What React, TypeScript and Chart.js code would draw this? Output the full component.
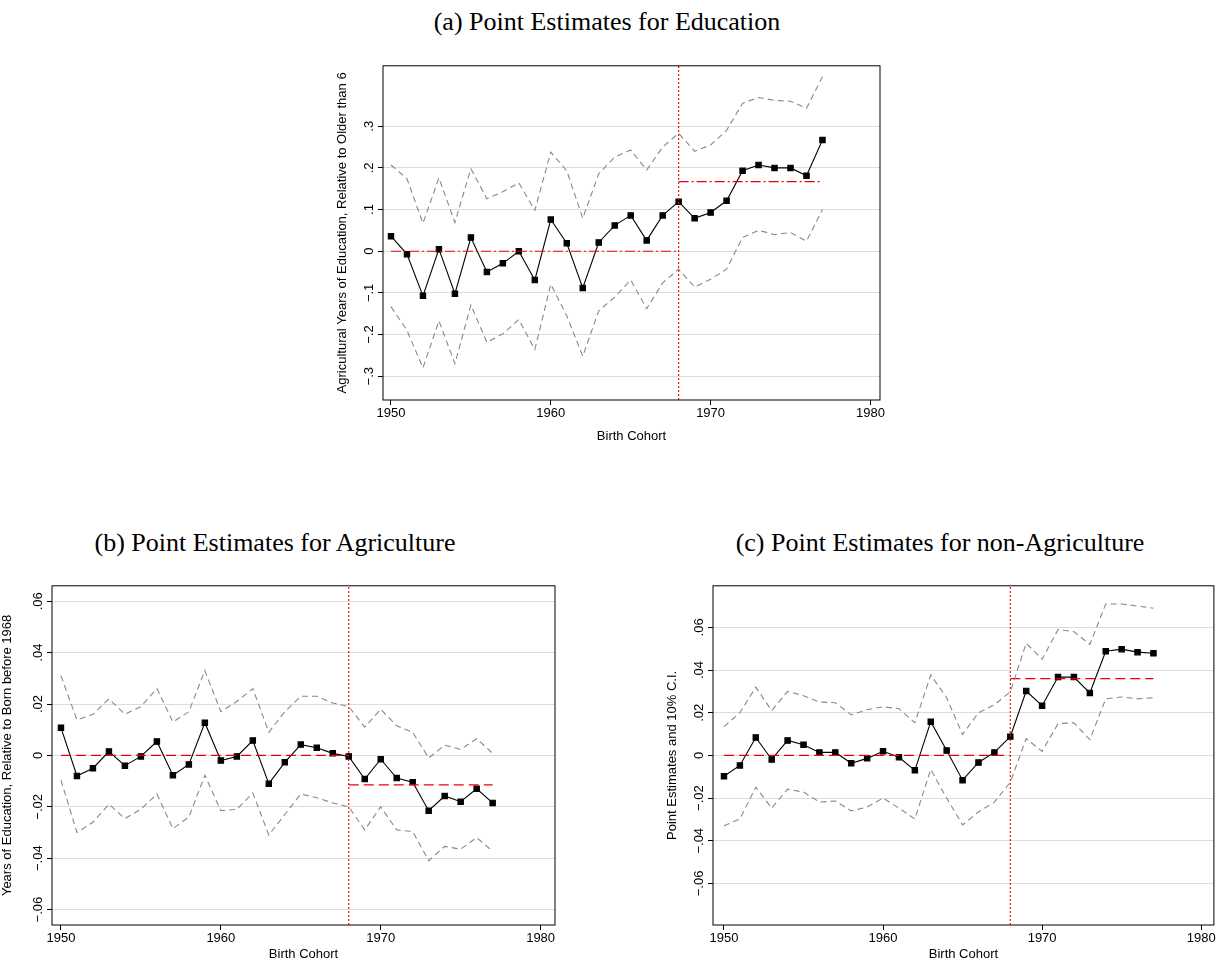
import React, { useEffect, useRef } from "react";
import { Chart, registerables } from "chart.js";
Chart.register(...registerables);

const years = [1950,1951,1952,1953,1954,1955,1956,1957,1958,1959,1960,1961,1962,1963,1964,1965,1966,1967,1968,1969,1970,1971,1972,1973,1974,1975,1976,1977];

const eduPoint = [0.036,-0.007,-0.107,0.005,-0.102,0.033,-0.05,-0.029,0,-0.069,0.076,0.019,-0.088,0.021,0.062,0.086,0.026,0.086,0.119,0.079,0.093,0.121,0.193,0.207,0.2,0.2,0.181,0.267];
const eduUpper = [0.207,0.174,0.067,0.176,0.069,0.198,0.126,0.143,0.164,0.098,0.238,0.193,0.079,0.186,0.226,0.243,0.195,0.25,0.283,0.24,0.255,0.29,0.355,0.369,0.362,0.36,0.343,0.419];
const eduLower = [-0.133,-0.19,-0.28,-0.167,-0.27,-0.129,-0.219,-0.198,-0.164,-0.236,-0.079,-0.155,-0.252,-0.143,-0.11,-0.069,-0.138,-0.076,-0.043,-0.086,-0.067,-0.043,0.033,0.05,0.04,0.045,0.024,0.1];
const eduMeans = [0, 0.167];

const agrPoint = [0.0108,-0.008,-0.005,0.0015,-0.004,-0.0004,0.0054,-0.0077,-0.0035,0.0127,-0.002,-0.0004,0.0058,-0.011,-0.0027,0.0042,0.003,0.0008,-0.0004,-0.0092,-0.0015,-0.0088,-0.0104,-0.0215,-0.0158,-0.018,-0.013,-0.0185];
const agrUpper = [0.031,0.0138,0.016,0.022,0.016,0.019,0.026,0.013,0.017,0.033,0.017,0.021,0.026,0.009,0.017,0.023,0.023,0.0204,0.019,0.011,0.018,0.0115,0.009,-0.001,0.004,0.0023,0.0065,0.0008];
const agrLower = [-0.0096,-0.03,-0.026,-0.019,-0.0246,-0.021,-0.015,-0.0285,-0.024,-0.0077,-0.0215,-0.021,-0.0146,-0.031,-0.023,-0.015,-0.0165,-0.0185,-0.02,-0.029,-0.02,-0.029,-0.0296,-0.041,-0.0354,-0.0365,-0.032,-0.0373];
const agrMeans = [0, -0.0115];

const nonPoint = [-0.0098,-0.0047,0.0084,-0.0019,0.007,0.005,0.0014,0.0014,-0.0037,-0.0014,0.0019,-0.0009,-0.007,0.0158,0.0023,-0.0116,-0.0033,0.0014,0.0088,0.0302,0.0233,0.0367,0.0367,0.0293,0.0488,0.0498,0.0484,0.0479];
const nonUpper = [0.0135,0.02,0.032,0.021,0.03,0.028,0.025,0.0247,0.019,0.0214,0.0228,0.0219,0.0153,0.0377,0.027,0.0098,0.02,0.0237,0.0298,0.0526,0.0451,0.059,0.058,0.052,0.071,0.071,0.07,0.069];
const nonLower = [-0.033,-0.0298,-0.0149,-0.0247,-0.0158,-0.0172,-0.0219,-0.0214,-0.026,-0.0242,-0.02,-0.0247,-0.0298,-0.0065,-0.02,-0.0326,-0.0265,-0.0219,-0.0126,0.0079,0.0019,0.0149,0.0153,0.0074,0.0265,0.0274,0.0265,0.027];
const nonMeans = [0, 0.036];

const xTicks = [1950, 1960, 1970, 1980];
const eduTicks = [-0.3, -0.2, -0.1, 0, 0.1, 0.2, 0.3];
const smallTicks = [-0.06, -0.04, -0.02, 0, 0.02, 0.04, 0.06];
const breakYear = 1968;

function fmt(v: number) {
  if (Math.abs(v) < 1e-9) return "0";
  const s = Math.abs(v).toFixed(2).replace(/0+$/, "").replace(/^0/, "");
  return (v < 0 ? "\u2212" : "") + s;
}

const FONT = "13px 'Liberation Sans'";

const borderPlugin = {
  id: "box",
  afterDraw(chart: any) {
    const { ctx, chartArea: a } = chart;
    ctx.save();
    ctx.strokeStyle = "#000";
    ctx.lineWidth = 1;
    ctx.strokeRect(a.left, a.top, a.right - a.left, a.bottom - a.top);
    // rotated y tick labels (reading bottom to top)
    const ys = chart.scales.y;
    ctx.fillStyle = "#000";
    ctx.font = FONT;
    ctx.textAlign = "center";
    ctx.textBaseline = "bottom";
    for (const t of ys.ticks) {
      const py = ys.getPixelForValue(t.value);
      ctx.save();
      ctx.translate(a.left - 7, py);
      ctx.rotate(-Math.PI / 2);
      ctx.fillText(fmt(t.value), 0, 0);
      ctx.restore();
    }
    ctx.restore();
  },
};

type P = {
  point: number[]; upper: number[]; lower: number[]; means: number[];
  ymin: number; ymax: number; xmin: number; xmax: number; yTicks: number[];
  yTitle: string; meanDash: number[]; yw: number; xh: number; padR: number; padT: number; padB: number;
  left: number; top: number; w: number; h: number;
};

function Panel(p: P) {
  const ref = useRef<HTMLCanvasElement>(null);
  useEffect(() => {
    const xy = (arr: number[]) => arr.map((v, i) => ({ x: years[i], y: v }));
    const first = years[0], last = years[years.length - 1];
    const font = { family: "Liberation Sans", size: 13 };
    const chart = new Chart(ref.current!, {
      type: "line",
      data: {
        datasets: [
          { data: xy(p.upper), borderColor: "#888", borderWidth: 1.1, borderDash: [6, 4], pointRadius: 0 },
          { data: xy(p.lower), borderColor: "#888", borderWidth: 1.1, borderDash: [6, 4], pointRadius: 0 },
          { data: [{ x: first, y: p.means[0] }, { x: breakYear, y: p.means[0] }], borderColor: "#e00", borderWidth: 1.2, borderDash: p.meanDash, pointRadius: 0 },
          { data: [{ x: breakYear, y: p.means[1] }, { x: last, y: p.means[1] }], borderColor: "#e00", borderWidth: 1.2, borderDash: p.meanDash, pointRadius: 0 },
          { data: [{ x: breakYear, y: p.ymin }, { x: breakYear, y: p.ymax }], borderColor: "#e00", borderWidth: 1.1, borderDash: [2, 2], pointRadius: 0 },
          { data: xy(p.point), borderColor: "#000", borderWidth: 1.1, pointStyle: "rect", pointRadius: 3.8, backgroundColor: "#000", pointBackgroundColor: "#000" },
        ] as any,
      },
      options: {
        animation: false,
        responsive: false,
        devicePixelRatio: 1,
        layout: { padding: { right: p.padR, top: p.padT, left: 0, bottom: p.padB } },
        plugins: { legend: { display: false }, tooltip: { enabled: false } },
        scales: {
          x: {
            type: "linear", min: p.xmin, max: p.xmax,
            afterBuildTicks: (s: any) => { s.ticks = xTicks.map((v) => ({ value: v })); },
            afterFit: (s: any) => { s.height = p.xh; },
            grid: { drawOnChartArea: false, tickLength: 5, tickColor: "#000" },
            border: { display: false },
            ticks: { color: "#000", autoSkip: false, maxRotation: 0, font, callback: (v: any) => String(v), padding: 1 },
            title: { display: true, text: "Birth Cohort", color: "#000", font, padding: 0 },
          },
          y: {
            type: "linear", min: p.ymin, max: p.ymax,
            afterBuildTicks: (s: any) => { s.ticks = p.yTicks.map((v) => ({ value: v })); },
            afterFit: (s: any) => { s.width = p.yw; },
            grid: { color: "#dcdcdc", tickLength: 5, tickColor: "#000" },
            border: { display: false },
            ticks: { color: "rgba(0,0,0,0)", autoSkip: false, font, callback: (v: any) => fmt(Number(v)) },
            title: { display: true, text: p.yTitle, color: "#000", font, padding: 0 },
          },
        },
      },
      plugins: [borderPlugin],
    } as any);
    return () => chart.destroy();
  }, []);
  return (
    <canvas ref={ref} width={p.w} height={p.h}
      style={{ position: "absolute", left: p.left, top: p.top, width: p.w, height: p.h }} />
  );
}

const titleStyle: React.CSSProperties = { position: "absolute", fontFamily: "'Liberation Serif',serif", fontSize: 26, textAlign: "center", whiteSpace: "nowrap", lineHeight: "30px" };

export default function App() {
  return (
    <div style={{ position: "absolute", left: 0, top: 0, width: 1219, height: 962, background: "#fff", overflow: "hidden" }}>
      <div style={{ ...titleStyle, left: 307, width: 600, top: 7 }}>(a) Point Estimates for Education</div>
      <div style={{ ...titleStyle, left: 0, width: 550, top: 528 }}>(b) Point Estimates for Agriculture</div>
      <div style={{ ...titleStyle, left: 665, width: 550, top: 528 }}>(c) Point Estimates for non-Agriculture</div>
      <Panel left={335} top={55} w={560} h={400} point={eduPoint} upper={eduUpper} lower={eduLower} means={eduMeans} ymin={-0.357} ymax={0.445} xmin={1949.5} xmax={1980.6} yTicks={eduTicks} yTitle="Agricultural Years of Education, Relative to Older than 6" meanDash={[10, 3, 2, 3]} yw={48} xh={44} padR={15} padT={8} padB={11} />
      <Panel left={0} top={575} w={565} h={387} point={agrPoint} upper={agrUpper} lower={agrLower} means={agrMeans} ymin={-0.066} ymax={0.066} xmin={1949.44} xmax={1980.9} yTicks={smallTicks} yTitle="Years of Education, Relative to Born before 1968" meanDash={[10, 5]} yw={52} xh={37} padR={10} padT={8} padB={0} />
      <Panel left={665} top={575} w={554} h={387} point={nonPoint} upper={nonUpper} lower={nonLower} means={nonMeans} ymin={-0.0795} ymax={0.0795} xmin={1949.31} xmax={1980.8} yTicks={smallTicks} yTitle="Point Estimates and 10% C.I." meanDash={[10, 5]} yw={48} xh={37} padR={4} padT={8} padB={0} />
    </div>
  );
}
